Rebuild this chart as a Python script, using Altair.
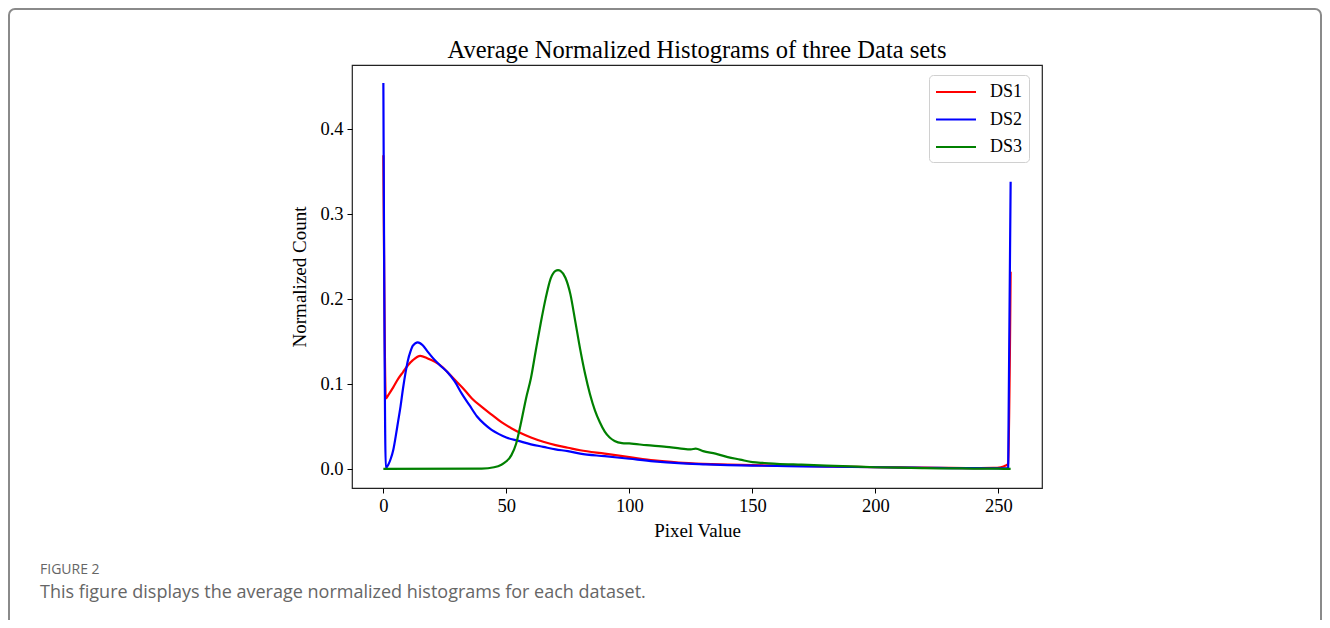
import altair as alt
import pandas as pd

# ---- data ----
series_names = ["DS1", "DS2", "DS3"]
series_colors = ["#ff0000", "#0000ff", "#008000"]

ds1_x = [0, 1, 2, 4, 6, 8, 10, 12, 15, 18, 21, 24, 27, 30, 33, 36, 40, 44, 48, 52,
         56, 60, 65, 70, 75, 80, 90, 100, 110, 120, 130, 140, 150, 160, 170, 180,
         190, 200, 210, 220, 230, 240, 248, 251, 253, 254, 255]
ds1_y = [0.369, 0.083, 0.087, 0.096, 0.106, 0.114, 0.122, 0.128, 0.133, 0.130,
         0.126, 0.120, 0.111, 0.102, 0.093, 0.083, 0.073, 0.064, 0.055, 0.048,
         0.042, 0.037, 0.032, 0.028, 0.025, 0.022, 0.018, 0.014, 0.010, 0.0075,
         0.006, 0.005, 0.0045, 0.004, 0.0035, 0.003, 0.0025, 0.002, 0.0018,
         0.0015, 0.0012, 0.001, 0.0012, 0.002, 0.004, 0.006, 0.232]

ds2_x = [0, 1, 2, 3, 4, 5, 6, 7, 8, 9, 10, 11, 12, 14, 16, 18, 20, 23, 26, 29,
         32, 35, 38, 41, 44, 47, 50, 55, 60, 65, 70, 75, 80, 90, 100, 110, 120,
         130, 140, 150, 160, 170, 180, 190, 200, 210, 220, 230, 240, 250, 254, 255]
ds2_y = [0.454, 0.001, 0.005, 0.012, 0.022, 0.038, 0.056, 0.074, 0.095, 0.113,
         0.128, 0.138, 0.145, 0.149, 0.1455, 0.138, 0.131, 0.122, 0.114, 0.103,
         0.088, 0.075, 0.062, 0.053, 0.046, 0.041, 0.037, 0.033, 0.029, 0.026,
         0.023, 0.021, 0.018, 0.015, 0.012, 0.009, 0.0068, 0.0055, 0.0045, 0.004,
         0.0035, 0.003, 0.0027, 0.0023, 0.002, 0.0017, 0.0014, 0.0011, 0.0009,
         0.0008, 0.001, 0.338]

ds3_x = [0, 40, 45, 48, 50, 52, 54, 56, 57, 58, 60, 62, 64, 66, 68, 70, 71, 72,
         74, 76, 78, 80, 82, 84, 86, 88, 90, 92, 94, 97, 100, 107, 115, 121, 125,
         127, 130, 135, 140, 145, 150, 155, 160, 170, 180, 190, 200, 210, 220,
         230, 240, 250, 255]
ds3_y = [0.0, 0.0005, 0.002, 0.005, 0.009, 0.016, 0.030, 0.055, 0.069, 0.083,
         0.107, 0.140, 0.172, 0.201, 0.224, 0.233, 0.234, 0.233, 0.225, 0.206,
         0.174, 0.141, 0.112, 0.088, 0.069, 0.055, 0.044, 0.037, 0.033, 0.0305,
         0.030, 0.028, 0.026, 0.024, 0.023, 0.024, 0.021, 0.018, 0.014, 0.011,
         0.008, 0.007, 0.006, 0.005, 0.004, 0.003, 0.002, 0.0015, 0.001, 0.0007,
         0.0005, 0.0003, 0.0]

x_ticks = [0, 50, 100, 150, 200, 250]
y_ticks = [0.0, 0.1, 0.2, 0.3, 0.4]

title_text = "Average Normalized Histograms of three Data sets"
x_title = "Pixel Value"
y_title = "Normalized Count"
caption_label = "FIGURE 2"
caption_text = "This figure displays the average normalized histograms for each dataset."

rows = []
for name, xs, ys in zip(series_names, [ds1_x, ds2_x, ds3_x], [ds1_y, ds2_y, ds3_y]):
    for i, (a, b) in enumerate(zip(xs, ys)):
        rows.append({"series": name, "px": a, "count": b, "order": i})
df = pd.DataFrame(rows)

SERIF = "Liberation Serif"
SANS = "Open Sans"

lines = alt.Chart(df).mark_line(strokeWidth=2.2, interpolate="monotone").encode(
    x=alt.X("px:Q",
            scale=alt.Scale(domain=[-12.75, 267.75], nice=False, zero=False),
            axis=alt.Axis(values=x_ticks, title=x_title, grid=False, domain=False,
                          tickSize=5, tickColor="#000", labelFont=SERIF, labelFontSize=18.5,
                          labelColor="#000", labelPadding=3, titleFont=SERIF,
                          titleFontSize=19, titleFontWeight="normal", titleColor="#000",
                          titlePadding=7)),
    y=alt.Y("count:Q",
            scale=alt.Scale(domain=[-0.0224, 0.4753], nice=False, zero=False),
            axis=alt.Axis(values=y_ticks, format=".1f", title=y_title, grid=False,
                          domain=False, tickSize=5, tickColor="#000", labelFont=SERIF,
                          labelFontSize=18.5, labelColor="#000", labelPadding=4,
                          titleFont=SERIF, titleFontSize=19, titleFontWeight="normal",
                          titleColor="#000", titlePadding=10)),
    color=alt.Color("series:N",
                    scale=alt.Scale(domain=series_names, range=series_colors),
                    legend=alt.Legend(title=None, orient="none", legendX=577, legendY=10,
                                      symbolType="M-1,0H3", symbolSize=400,
                                      symbolStrokeWidth=2, labelFont=SERIF,
                                      labelFontSize=18, labelColor="#000",
                                      labelOffset=33, padding=6, rowPadding=7.5,
                                      strokeColor="#d0d0d0", fillColor="#ffffff",
                                      cornerRadius=4)),
    order="order:Q",
)

one = pd.DataFrame({"k": [0]})

frame = alt.Chart(one).mark_rect(fill=None, stroke="#8a8a8a", strokeWidth=2,
                                 cornerRadius=6).encode(
    x=alt.value(-343), x2=alt.value(969), y=alt.value(-56), y2=alt.value(640))

title = alt.Chart(one).mark_text(text=title_text, align="center", baseline="alphabetic",
                                 font=SERIF, fontSize=24.5, color="#000").encode(
    x=alt.value(345), y=alt.value(-7))

cap1 = alt.Chart(one).mark_text(text=caption_label, align="left", baseline="middle",
                                font=SANS, fontSize=14, color="#666666").encode(
    x=alt.value(-312), y=alt.value(505))
cap2 = alt.Chart(one).mark_text(text=caption_text, align="left", baseline="middle",
                                font=SANS, fontSize=18, color="#666666").encode(
    x=alt.value(-312), y=alt.value(528))

chart = alt.layer(frame, lines, title, cap1, cap2).properties(
    width=690, height=423,
    autosize=alt.AutoSizeParams(type="none"),
    padding={"left": 344, "top": 57, "right": 280, "bottom": 132},
).configure(
    background="#ffffff",
    view=alt.ViewConfig(stroke="#222222", strokeWidth=1.2),
)

chart.save("out.html", embed_options={"renderer": "svg", "actions": False})
